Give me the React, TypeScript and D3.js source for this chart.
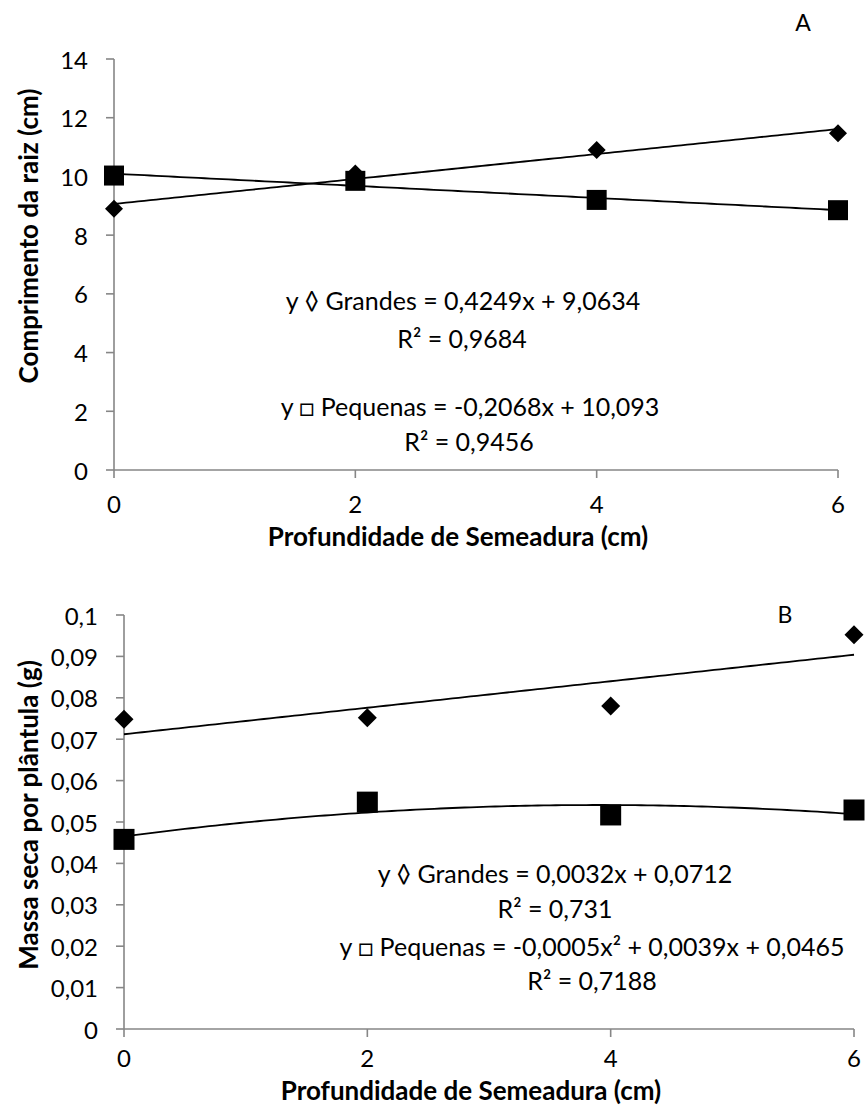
import React from "react";
import * as d3 from "d3";

// Sowing depth (cm)
const depths = [0, 2, 4, 6];
const xTicks = [0, 2, 4, 6];

// Panel A – root length (cm)
const rootGrandes = [8.9, 10.1, 10.9, 11.47];
const rootPequenas = [10.03, 9.85, 9.2, 8.85];
const rootTicks = [0, 2, 4, 6, 8, 10, 12, 14];
// linear fits: [slope, intercept]
const rootFitGrandes = [0.4249, 9.0634];
const rootFitPequenas = [-0.2068, 10.093];

// Panel B – dry mass per seedling (g)
const massGrandes = [0.0748, 0.0752, 0.078, 0.0952];
const massPequenas = [0.0458, 0.0548, 0.0517, 0.0529];
const massTicks = [0, 0.01, 0.02, 0.03, 0.04, 0.05, 0.06, 0.07, 0.08, 0.09, 0.1];
// fits: Grandes linear [slope, intercept]; Pequenas quadratic [a, b, c]
const massFitGrandes = [0.0032, 0.0712];
const massFitPequenas = [-0.0005, 0.0039, 0.0465];

const FONT = "Lato, 'Open Sans', sans-serif";
const AXIS = "#868686";

const fmt = (v: number) => String(+v.toFixed(3)).replace(".", ",");

type PanelProps = {
  xRange: [number, number];
  yRange: [number, number];
  yDomain: [number, number];
  yTicks: number[];
  grandes: number[];
  pequenas: number[];
  fitG: (x: number) => number;
  fitP: (x: number) => number;
  yTitle: string;
  yTitleY: number;
  xLabelOffset: number;
  xTitleY: number;
  letter: string;
  letterPos: [number, number];
  notes: { text: string; x: number; y: number }[];
  diamondR: number;
  squareS: number;
};

function Panel(p: PanelProps) {
  const x = d3.scaleLinear().domain([0, 6]).range(p.xRange);
  const y = d3.scaleLinear().domain(p.yDomain).range(p.yRange);
  const x0 = p.xRange[0];
  const y0 = p.yRange[0];
  const samples = d3.range(0, 6.0001, 0.05);
  const path = (f: (v: number) => number) =>
    d3
      .line<number>()
      .x((d) => x(d))
      .y((d) => y(f(d)))(samples) as string;
  const r = p.diamondR;
  const s = p.squareS;
  return (
    <g fontFamily={FONT} style={{ whiteSpace: "pre" }}>
      {/* axes */}
      <line x1={x0} x2={x0} y1={p.yRange[1]} y2={y0} stroke={AXIS} strokeWidth={1.6} />
      <line x1={x0} x2={p.xRange[1]} y1={y0} y2={y0} stroke={AXIS} strokeWidth={1.6} />
      {p.yTicks.map((t) => (
        <g key={"y" + t}>
          <line x1={x0 - 8} x2={x0} y1={y(t)} y2={y(t)} stroke={AXIS} strokeWidth={1.6} />
          <text x={x0 - 26} y={y(t)} textAnchor="end" dominantBaseline="central" fontSize={24} fill="#000">
            {fmt(t)}
          </text>
        </g>
      ))}
      {xTicks.map((t) => (
        <g key={"x" + t}>
          <line x1={x(t)} x2={x(t)} y1={y0} y2={y0 + 8} stroke={AXIS} strokeWidth={1.6} />
          <text x={x(t)} y={y0 + p.xLabelOffset} textAnchor="middle" dominantBaseline="central" fontSize={24} fill="#000">
            {fmt(t)}
          </text>
        </g>
      ))}
      <text
        transform={`translate(28,${p.yTitleY}) rotate(-90)`}
        textAnchor="middle"
        dominantBaseline="central"
        fontSize={26}
        fontWeight="bold"
      >
        {p.yTitle}
      </text>
      <text
        x={(p.xRange[0] + p.xRange[1]) / 2 - 18}
        y={p.xTitleY}
        textAnchor="middle"
        dominantBaseline="central"
        fontSize={26}
        fontWeight="bold"
      >
        Profundidade de Semeadura (cm)
      </text>
      <text x={p.letterPos[0]} y={p.letterPos[1]} textAnchor="middle" dominantBaseline="central" fontSize={23}>
        {p.letter}
      </text>
      {/* trend lines */}
      <path d={path(p.fitG)} fill="none" stroke="#000" strokeWidth={1.8} />
      <path d={path(p.fitP)} fill="none" stroke="#000" strokeWidth={1.8} />
      {/* markers */}
      {depths.map((d, i) => (
        <path
          key={"g" + d}
          d={`M${x(d)},${y(p.grandes[i]) - r}L${x(d) + r},${y(p.grandes[i])}L${x(d)},${y(p.grandes[i]) + r}L${x(d) - r},${y(p.grandes[i])}Z`}
          fill="#000"
        />
      ))}
      {depths.map((d, i) => (
        <rect key={"p" + d} x={x(d) - s / 2} y={y(p.pequenas[i]) - s / 2} width={s} height={s} fill="#000" />
      ))}
      {p.notes.map((n) => (
        <text key={n.text} x={n.x} y={n.y} textAnchor="middle" dominantBaseline="central" fontSize={25} fill="#000">
          {n.text}
        </text>
      ))}
    </g>
  );
}

export default function App() {
  return (
    <svg width={866} height={1115} style={{ position: "absolute", left: 0, top: 0, background: "#fff" }}>
      <rect width={866} height={1115} fill="#fff" />
      <Panel
        xRange={[114, 838]}
        yRange={[470, 59]}
        yDomain={[0, 14]}
        yTicks={rootTicks}
        grandes={rootGrandes}
        pequenas={rootPequenas}
        fitG={(v) => rootFitGrandes[0] * v + rootFitGrandes[1]}
        fitP={(v) => rootFitPequenas[0] * v + rootFitPequenas[1]}
        yTitle={"Comprimento da raiz (cm)"}
        yTitleY={236}
        xLabelOffset={33}
        xTitleY={536}
        letter="A"
        letterPos={[803, 22]}
        diamondR={9}
        squareS={20}
        notes={[
          { text: "y \u25CA Grandes  = 0,4249x + 9,0634", x: 463, y: 300 },
          { text: "R\u00B2 = 0,9684", x: 462, y: 338 },
          { text: "y \u25A1 Pequenas = -0,2068x + 10,093", x: 470, y: 406 },
          { text: "R\u00B2 = 0,9456", x: 469, y: 441 },
        ]}
      />
      <Panel
        xRange={[124, 854]}
        yRange={[1029, 615]}
        yDomain={[0, 0.1]}
        yTicks={massTicks}
        grandes={massGrandes}
        pequenas={massPequenas}
        fitG={(v) => massFitGrandes[0] * v + massFitGrandes[1]}
        fitP={(v) => massFitPequenas[0] * v * v + massFitPequenas[1] * v + massFitPequenas[2]}
        yTitle={"Massa seca por pl\u00E2ntula  (g)"}
        yTitleY={815}
        xLabelOffset={28}
        xTitleY={1090}
        letter="B"
        letterPos={[785, 614]}
        diamondR={9.5}
        squareS={21}
        notes={[
          { text: "y \u25CA Grandes = 0,0032x + 0,0712", x: 555, y: 873 },
          { text: "R\u00B2 = 0,731", x: 555, y: 908 },
          { text: "y \u25A1 Pequenas = -0,0005x\u00B2 + 0,0039x + 0,0465", x: 592, y: 946 },
          { text: "R\u00B2 = 0,7188", x: 592, y: 980 },
        ]}
      />
    </svg>
  );
}
